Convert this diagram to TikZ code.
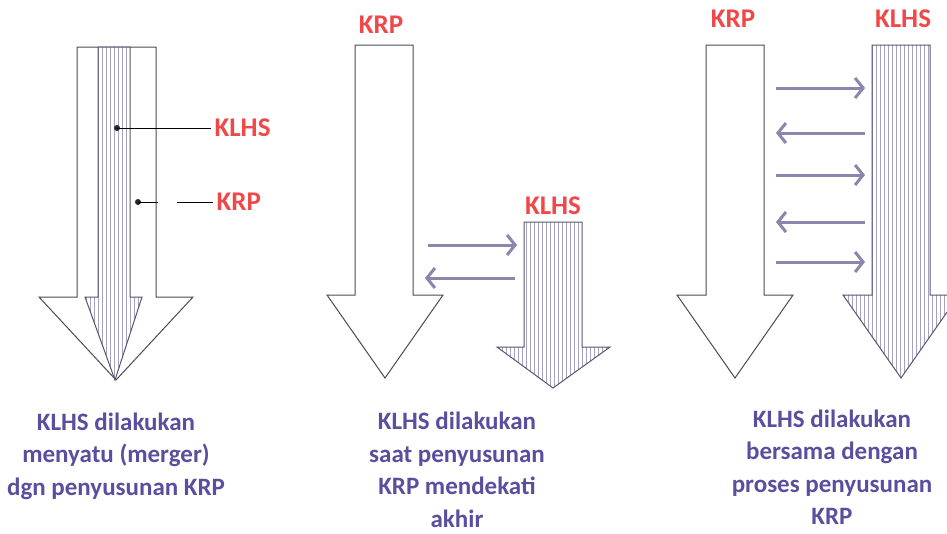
\documentclass[tikz,border=0pt]{standalone}
\usepackage{fontspec}
\setmainfont{Carlito}
\usetikzlibrary{arrows.meta}
\definecolor{tagred}{HTML}{F04848}
\definecolor{captionblue}{HTML}{5C4E9E}
\definecolor{linkgray}{HTML}{8A86AE}
\definecolor{stripegray}{HTML}{A6A2C4}
\definecolor{edgegray}{HTML}{4A4A58}
\tikzset{
  plain/.style={draw=edgegray, line width=1pt, fill=white},
  outline/.style={draw=edgegray!80!linkgray, line width=1pt},
  stripe/.style={draw=stripegray, line width=.7pt},
  tag/.style={text=tagred, font=\bfseries\fontsize{27}{30}\selectfont},
  caption/.style={text=captionblue, font=\bfseries\fontsize{25}{32.5}\selectfont, align=center},
  link/.style={draw=linkgray, line width=3pt, -{Straight Barb[length=8pt,width=20pt]}},
  dot/.style={circle, fill=black!85, inner sep=0pt, minimum size=6pt}
}
\begin{document}
\begin{tikzpicture}[x=1pt, y=-1pt]
    \useasboundingbox (0,0) rectangle (947,533);
    \clip (0,0) rectangle (947,533);
    % merged
    \draw[plain] (77,47)--(156,47)--(156,297)--(193,297)--(116,380)--(39,297)--(77,297)--cycle;
    \fill[white] (98,47)--(130,47)--(130,297)--(142,297)--(115,380)--(85,297)--(98,297)--cycle;
    \begin{scope}
        \clip (98,47)--(130,47)--(130,297)--(142,297)--(115,380)--(85,297)--(98,297)--cycle;
        \foreach \x in {86,90,...,142}
            \draw[stripe] (\x,40)--(\x,390);
    \end{scope}
    \draw[outline] (98,47)--(130,47)--(130,297)--(142,297)--(115,380)--(85,297)--(98,297)--cycle;
    \node[dot] (dklhs) at (117,128) {};
    \node[dot] (dkrp) at (138,202) {};
    \node[tag, anchor=west] (lklhs) at (211,128) {KLHS};
    \node[tag, anchor=west] (lkrp) at (213,202) {KRP};
    \draw (dklhs.center)--(dklhs.center -| lklhs.west);
    \draw (dkrp.center)--++(20,0);
    \draw (dkrp.center -| lkrp.west)--++(-36,0);
    \node[caption] (capa) at (116,456) {KLHS dilakukan\\menyatu (merger)\\dgn penyusunan KRP};
    % near the end
    \draw[plain] (355,45)--(413,45)--(413,295)--(443,295)--(385,378)--(327,295)--(355,295)--cycle;
    \begin{scope}
        \clip (524,222)--(582,222)--(582,347)--(610,347)--(553,388)--(497,347)--(524,347)--cycle;
        \foreach \x in {498,502,...,610}
            \draw[stripe] (\x,215)--(\x,395);
    \end{scope}
    \draw[outline] (524,222)--(582,222)--(582,347)--(610,347)--(553,388)--(497,347)--(524,347)--cycle;
    \node[tag] (mkrp) at (381,25) {KRP};
    \node[tag] (mklhs) at (553,206) {KLHS};
    \draw[link] (428,245)--(517,245);
    \draw[link] (515,278)--(425,278);
    \node[caption] (capb) at (457,470) {KLHS dilakukan\\saat penyusunan\\KRP mendekati\\akhir};
    % together
    \draw[plain] (706,45)--(764,45)--(764,295)--(793,295)--(735,378)--(677,295)--(706,295)--cycle;
    \begin{scope}
        \clip (872,45)--(930,45)--(930,295)--(959,295)--(901,378)--(843,295)--(872,295)--cycle;
        \foreach \x in {844,848,...,960}
            \draw[stripe] (\x,40)--(\x,385);
    \end{scope}
    \draw[outline] (872,45)--(930,45)--(930,295)--(959,295)--(901,378)--(843,295)--(872,295)--cycle;
    \node[tag] (rkrp) at (733,19) {KRP};
    \node[tag] (rklhs) at (903,19) {KLHS};
    \foreach \y in {88,175,262}
        \draw[link] (776,\y)--(865,\y);
    \foreach \y in {133,222}
        \draw[link] (865,\y)--(776,\y);
    \node[caption] (capc) at (832,467) {KLHS dilakukan\\bersama dengan\\proses penyusunan\\KRP};
\end{tikzpicture}
\end{document}
